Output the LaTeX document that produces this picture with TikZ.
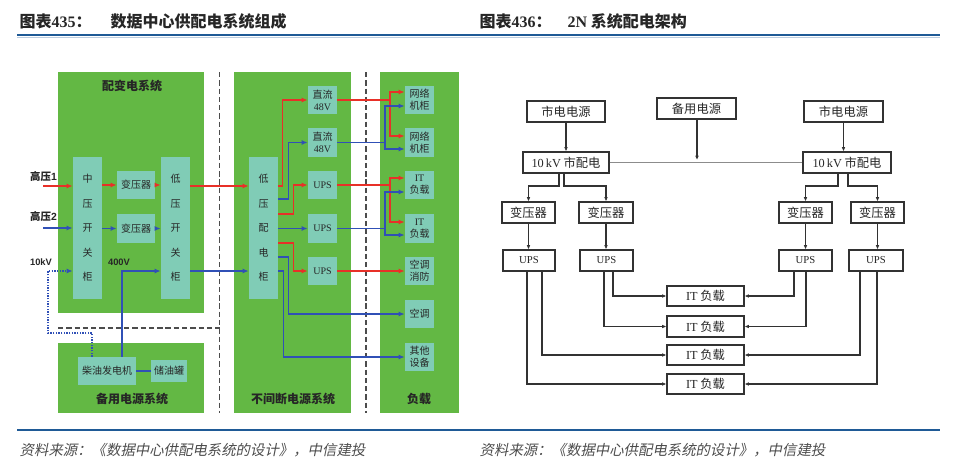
\documentclass[tikz,border=0pt]{standalone}
\usepackage{fontspec}
\setmainfont{Noto Sans CJK SC}
\newfontfamily\lser{Liberation Serif}
\newfontfamily\lsans{Liberation Sans}
\newfontfamily\cjkit[FakeSlant=0.2]{Noto Sans CJK SC}
\usetikzlibrary{arrows.meta}
\definecolor{grn}{RGB}{99,184,68}
\definecolor{tealb}{RGB}{128,204,182}
\definecolor{rd}{RGB}{232,48,40}
\definecolor{bl}{RGB}{48,80,182}
\definecolor{hdr}{RGB}{31,90,150}
\definecolor{dk}{RGB}{50,50,50}
\tikzset{
  gbox/.style={fill=grn, draw=none, inner sep=0pt},
  tbox/.style={fill=tealb, draw=none, inner sep=0pt, align=center, text=black!85, font=\fontsize{7.5}{9}\selectfont},
  vtext/.style={font=\fontsize{7.5}{18.4}\selectfont},
  wbox/.style={draw=dk, line width=0.9pt, fill=white, inner sep=0pt, font=\fontsize{9.2}{11}\selectfont, text=black!85},
  rline/.style={draw=rd, line width=1pt},
  bline/.style={draw=bl, line width=1pt},
  rar/.style={rline, -{Latex[length=4.5pt,width=3.6pt]}},
  bar/.style={bline, -{Latex[length=4.5pt,width=3.6pt]}},
  sep/.style={draw=black!70, line width=1.4pt, dash pattern=on 4pt off 2.2pt},
  kar/.style={draw=dk, line width=0.8pt, -{Latex[length=3.2pt,width=2.8pt]}},
  sect/.style={font=\bfseries\fontsize{9}{11}\selectfont, text=black!85},
  lbl/.style={font=\bfseries\fontsize{7.8}{9}\selectfont, text=black!85},
}
% box from pixel corners: style, x1, y1, x2, y2, name, text
\newcommand\mkbox[7]{\node[#1, minimum width={0.75pt*(#4-#2)}, minimum height={0.75pt*(#5-#3)}] (#6) at ({(#2+#4)/2},{(#3+#5)/2}) {#7};}
\begin{document}
\begin{tikzpicture}[x=0.75pt,y=-0.75pt]
\useasboundingbox (0,0) rectangle (960,471);
% headers
\node[anchor=west, font=\bfseries\fontsize{12}{14}\selectfont, text=black!85] (h1a) at (15,21) {图表{\lser 435}：};
\node[anchor=west, font=\bfseries\fontsize{12}{14}\selectfont, text=black!85] (h1b) at (106,21) {数据中心供配电系统组成};
\node[anchor=west, font=\bfseries\fontsize{12}{14}\selectfont, text=black!85] (h2a) at (475,21) {图表{\lser 436}：};
\node[anchor=west, font=\bfseries\fontsize{12}{14}\selectfont, text=black!85] (h2b) at (563,21) {{\lser 2N} 系统配电架构};
\draw[draw=hdr, line width=1.3pt] (17,35) -- (940,35);
\draw[draw=hdr!30, line width=0.6pt] (17,37) -- (940,37);
\draw[draw=hdr, line width=1.3pt] (17,430) -- (940,430);
\node[anchor=west, font=\cjkit\fontsize{10.8}{13}\selectfont, text=black!70] (s1) at (15,450) {资料来源：《数据中心供配电系统的设计》，中信建投};
\node[anchor=west, font=\cjkit\fontsize{10.8}{13}\selectfont, text=black!70] (s2) at (475,450) {资料来源：《数据中心供配电系统的设计》，中信建投};

% ===== left diagram =====
\mkbox{gbox}{58}{72}{204}{313}{g1}{}
\mkbox{gbox}{58}{343}{204}{413}{g2}{}
\mkbox{gbox}{234}{72}{351}{413}{g3}{}
\mkbox{gbox}{380}{72}{459}{413}{g4}{}
\node[sect] (t1) at (132,86) {配变电系统};
\node[sect] (t2) at (132,399) {备用电源系统};
\node[sect] (t3) at (293,399) {不间断电源系统};
\node[sect] (t4) at (419,399) {负载};
\draw[sep] (219.5,72) -- (219.5,413);
\draw[sep] (366,72) -- (366,413);
\draw[sep] (58,328) -- (219.5,328);

\mkbox{tbox, vtext}{73}{157}{102}{299}{mv}{中\\压\\开\\关\\柜}
\mkbox{tbox}{117}{171}{155}{199}{tr1}{变压器}
\mkbox{tbox}{117}{214}{155}{243}{tr2}{变压器}
\mkbox{tbox, vtext}{161}{157}{190}{299}{lv}{低\\压\\开\\关\\柜}
\mkbox{tbox}{78}{357}{136}{385}{gen}{柴油发电机}
\mkbox{tbox}{151}{360}{187}{382}{tank}{储油罐}
\mkbox{tbox, vtext}{249}{157}{278}{299}{ld}{低\\压\\配\\电\\柜}
\mkbox{tbox}{308}{86}{337}{114}{dc1}{直流\\{\lser 48V}}
\mkbox{tbox}{308}{128}{337}{157}{dc2}{直流\\{\lser 48V}}
\mkbox{tbox}{308}{171}{337}{199}{ups1}{\lser UPS}
\mkbox{tbox}{308}{214}{337}{243}{ups2}{\lser UPS}
\mkbox{tbox}{308}{257}{337}{285}{ups3}{\lser UPS}
\mkbox{tbox}{405}{86}{434}{114}{n1}{网络\\机柜}
\mkbox{tbox}{405}{128}{434}{157}{n2}{网络\\机柜}
\mkbox{tbox}{405}{171}{434}{199}{it1}{{\lser IT}\\负载}
\mkbox{tbox}{405}{214}{434}{243}{it2}{{\lser IT}\\负载}
\mkbox{tbox}{405}{257}{434}{285}{ac1}{空调\\消防}
\mkbox{tbox}{405}{300}{434}{328}{ac2}{空调}
\mkbox{tbox}{405}{343}{434}{371}{oth}{其他\\设备}

\node[lbl] (lh1) at (43.5,177) {高压{\lsans 1}};
\node[lbl] (lh2) at (43.5,217) {高压{\lsans 2}};
\node[font=\lsans\bfseries\fontsize{7}{8}\selectfont, text=black!85] (l10) at (41,262) {10kV};
\node[font=\lsans\bfseries\fontsize{7}{8}\selectfont, text=black!85] (l400) at (119,262) {400V};

% inputs
\coordinate (in1) at (43,186);
\coordinate (in2) at (43,228);
\draw[rar] (in1) -- (mv.west |- in1);
\draw[bar] (in2) -- (mv.west |- in2);
\draw[rar] (mv.east |- tr1.west) -- (tr1.west);
\draw[bar] (mv.east |- tr2.west) -- (tr2.west);
\draw[rar] (tr1.east) -- (lv.west |- tr1.east);
\draw[bar] (tr2.east) -- (lv.west |- tr2.east);
\draw[rar] (lv.east |- in1) -- (ld.west |- in1);
\draw[bar] (lv.east |- 0,271) -- (ld.west |- 0,271);
% generator
\draw[bline, densely dotted, -{Latex[length=4.5pt,width=3.6pt]}] (gen.north -| 92,0) -- (92,333) -- (48,333) -- (48,271) -- (mv.west |- 0,271);
\draw[bar] (gen.north -| 122,0) -- (122,271) -- (lv.west |- 0,271);
\draw[bline] (gen.east) -- (tank.west);
% low voltage distribution
\draw[rar] (ld.east |- 0,186) -- ++(4,0) |- (dc1.west);
\draw[bar] (ld.east |- 0,199) -- ++(10,0) |- (dc2.west);
\draw[rar] (ld.east |- 0,214) -- ++(15,0) |- (ups1.west);
\draw[bar] (ld.east |- ups2.west) -- (ups2.west);
\draw[rar] (ld.east |- 0,243) -- ++(15,0) |- (ups3.west);
\draw[bar] (ld.east |- 0,257) -- ++(10,0) |- (ac2.west);
\draw[bar] (ld.east |- 0,271) -- ++(5,0) |- (oth.west);
% to loads
\draw[rline] (dc1.east) -- (390,100) coordinate (rj1);
\draw[rar] (rj1) |- (n1.west |- 0,92);
\draw[rar] (rj1) |- (n2.west |- 0,136);
\draw[bline] (dc2.east) -- (385,142.5) coordinate (bj1);
\draw[bar] (bj1) |- (n1.west |- 0,106);
\draw[bar] (bj1) |- (n2.west |- 0,149);
\draw[rline] (ups1.east) -- (390,185) coordinate (rj2);
\draw[rar] (rj2) |- (it1.west |- 0,178);
\draw[rar] (rj2) |- (it2.west |- 0,222);
\draw[bline] (ups2.east) -- (385,228.5) coordinate (bj2);
\draw[bar] (bj2) |- (it1.west |- 0,192);
\draw[bar] (bj2) |- (it2.west |- 0,235);
\draw[rar] (ups3.east) -- (ac1.west);

% ===== right diagram =====
\mkbox{wbox}{527}{101}{605}{122}{mL}{市电电源}
\mkbox{wbox}{657}{98}{736}{119}{bk}{备用电源}
\mkbox{wbox}{804}{101}{883}{122}{mR}{市电电源}
\mkbox{wbox}{523}{152}{609}{173}{dL}{{\lser 10\,kV} 市配电}
\mkbox{wbox}{803}{152}{891}{173}{dR}{{\lser 10\,kV} 市配电}
\mkbox{wbox}{502}{202}{555}{223}{tL1}{变压器}
\mkbox{wbox}{579}{202}{633}{223}{tL2}{变压器}
\mkbox{wbox}{779}{202}{832}{223}{tR1}{变压器}
\mkbox{wbox}{851}{202}{904}{223}{tR2}{变压器}
\mkbox{wbox, font=\lser\fontsize{8}{9}\selectfont}{503}{250}{555}{271}{uL1}{UPS}
\mkbox{wbox, font=\lser\fontsize{8}{9}\selectfont}{580}{250}{633}{271}{uL2}{UPS}
\mkbox{wbox, font=\lser\fontsize{8}{9}\selectfont}{779}{250}{832}{271}{uR1}{UPS}
\mkbox{wbox, font=\lser\fontsize{8}{9}\selectfont}{849}{250}{903}{271}{uR2}{UPS}
\mkbox{wbox}{667}{286}{744}{306}{IT1}{{\lser IT} 负载}
\mkbox{wbox}{667}{316}{744}{337}{IT2}{{\lser IT} 负载}
\mkbox{wbox}{667}{345}{744}{365}{IT3}{{\lser IT} 负载}
\mkbox{wbox}{667}{374}{744}{394}{IT4}{{\lser IT} 负载}

\draw[kar] (mL.south) -- (dL.north -| mL.south);
\draw[kar] (mR.south) -- (dR.north -| mR.south);
\draw[draw=black!45, line width=0.8pt] (dL.east) -- (dR.west);
\coordinate (bkend) at (697,160);
\draw[kar] (bk.south -| bkend) -- (bkend);
\draw[kar] (dL.south -| 559,0) -- (559,186) -| (tL1.north);
\draw[kar] (dL.south -| 564,0) -- (564,186) -| (tL2.north);
\draw[kar] (dR.south -| 838,0) -- (838,186) -| (tR1.north);
\draw[kar] (dR.south -| 848,0) -- (848,186) -| (tR2.north);
\draw[kar] (tL1.south) -- (uL1.north -| tL1.south);
\draw[kar] (tL2.south) -- (uL2.north -| tL2.south);
\draw[kar] (tR1.south) -- (uR1.north -| tR1.south);
\draw[kar] (tR2.south) -- (uR2.north -| tR2.south);
\draw[kar] (uL2.south -| 613,0) |- (IT1.west);
\draw[kar] (uL2.south -| 604,0) |- (IT2.west);
\draw[kar] (uL1.south -| 542,0) |- (IT3.west);
\draw[kar] (uL1.south -| 527,0) |- (IT4.west);
\draw[kar] (uR1.south -| 794,0) |- (IT1.east);
\draw[kar] (uR1.south -| 806,0) |- (IT2.east);
\draw[kar] (uR2.south -| 860,0) |- (IT3.east);
\draw[kar] (uR2.south -| 877,0) |- (IT4.east);
\end{tikzpicture}
\end{document}
